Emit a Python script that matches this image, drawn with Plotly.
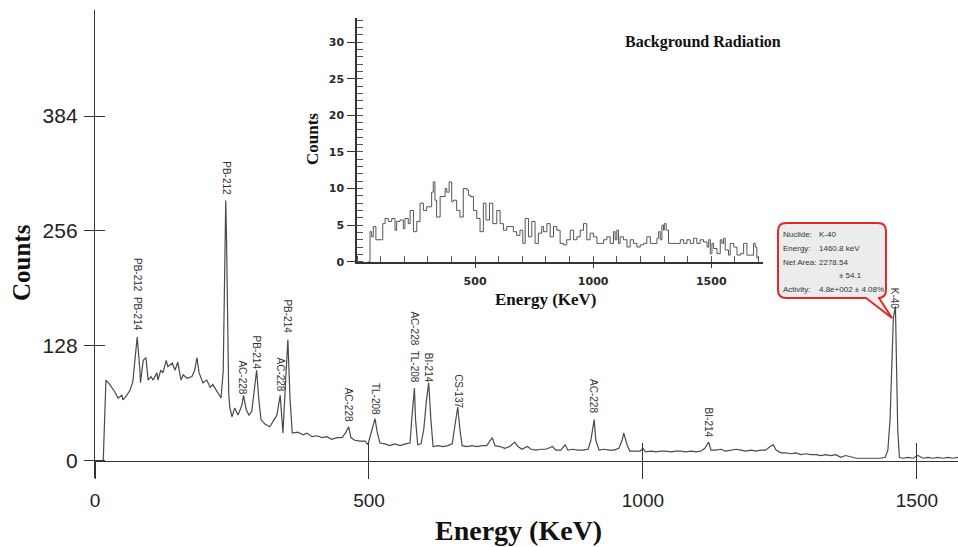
import plotly.graph_objects as go

W, H = 958, 547

# ---------------- data ----------------
main_energy = [0, 15, 20, 27, 36, 42, 49, 51, 58, 64, 69, 73, 77, 82, 83, 88, 93, 97, 102, 106,
               113, 115, 120, 124, 130, 133, 141, 146, 151, 157, 161, 168, 177, 182, 186, 190, 197,
               204, 210, 215, 223, 230, 234, 236.5, 238.6, 240, 242, 244, 246, 250, 255, 261, 268,
               271, 276, 281, 286, 290, 295, 299, 303, 310, 319, 327, 332, 338, 341, 343, 348, 352,
               356, 360, 370, 380, 387, 396, 405, 414, 423, 432, 442, 451, 458, 463, 467, 474, 484,
               493, 498, 504, 511, 515, 520, 529, 538, 547, 557, 566, 575, 578, 583, 585, 589, 595,
               600, 605, 609, 613, 617, 626, 635, 644, 652, 657, 662, 666, 670, 679, 688, 697, 706,
               715, 725, 730, 739, 748, 757, 766, 772, 779, 789, 796, 805, 814, 823, 835, 841, 850,
               858, 863, 872, 881, 891, 900, 905, 911, 914, 920, 929, 938, 947, 956, 962, 965, 971,
               976, 985, 995, 1000, 1005, 1015, 1024, 1033, 1042, 1051, 1060, 1069, 1078, 1088,
               1097, 1106, 1113, 1120, 1124, 1133, 1142, 1151, 1161, 1170, 1179, 1188, 1197, 1206,
               1215, 1224, 1232, 1238, 1243, 1252, 1261, 1270, 1279, 1288, 1297, 1307, 1316, 1325,
               1334, 1343, 1352, 1361, 1370, 1380, 1389, 1398, 1407, 1416, 1425, 1434, 1442, 1447,
               1451, 1454, 1457, 1460.8, 1463, 1465, 1468, 1474, 1484, 1493, 1502, 1511, 1520,
               1529, 1538, 1547, 1557, 1566, 1575]
main_counts = [0, 0, 90, 85, 77, 70, 73, 68, 73, 79, 88, 112, 138, 101, 87, 112, 115, 90, 94, 90,
               98, 90, 101, 98, 112, 105, 109, 101, 110, 90, 96, 92, 94, 101, 115, 98, 87,
               90, 82, 85, 77, 70, 100, 200, 290, 250, 120, 75, 60, 49, 59, 51, 62,
               73, 57, 51, 55, 73, 101, 68, 46, 41, 38, 46, 51, 73, 46, 31, 90, 135,
               68, 31, 32, 29, 31, 27, 28, 26, 27, 24, 26, 26, 32, 38, 26, 23, 22,
               22, 18, 32, 47, 32, 20, 19, 17, 19, 17, 19, 20, 46, 81, 46, 18, 19,
               35, 68, 87, 46, 16, 17, 16, 17, 19, 40, 60, 35, 17, 16, 17, 16, 17,
               17, 26, 17, 16, 14, 16, 21, 16, 13, 16, 13, 12, 13, 13, 16, 12, 12,
               18, 12, 13, 12, 12, 13, 23, 46, 23, 12, 13, 12, 12, 14, 23, 31, 18,
               11, 11, 11, 14, 10, 11, 10, 11, 11, 10, 11, 11, 10, 11,
               10, 11, 14, 21, 12, 12, 13, 11, 12, 13, 12, 11, 12, 11,
               12, 12, 16, 18, 12, 9, 9, 8, 9, 7, 8, 7, 7, 6,
               7, 6, 7, 4, 6, 4, 3, 3, 3, 3, 3, 3, 4, 12,
               46, 112, 159, 172, 112, 35, 4, 3, 4, 3, 6, 3, 4,
               3, 4, 3, 4, 3, 4]

peak_labels = ["PB-212  PB-214", "PB-212", "AC-228", "PB-214", "AC-228", "PB-214", "AC-228",
               "TL-208", "AC-228  TL-208", "BI-214", "CS-137", "AC-228", "BI-214", "K-40"]
label_energy = [78, 238.6, 270, 295, 338, 352, 463, 511, 583, 609, 662, 911, 1120, 1459]
label_count = [185, 315, 93, 121, 96, 161, 63, 69, 127, 104, 78, 72, 43, 180]

inset_energy = [45, 55, 62, 69, 80, 104, 109, 119, 133, 147, 161, 168, 182, 196, 203, 217, 225,
                239, 253, 267, 281, 295, 316, 323, 330, 337, 352, 373, 380, 390, 401, 408, 422,
                436, 450, 465, 472, 479, 493, 507, 521, 535, 546, 561, 575, 592, 606, 620, 634,
                648, 662, 676, 690, 702, 712, 726, 740, 754, 768, 782, 790, 804, 818, 832, 846,
                860, 874, 888, 903, 917, 931, 945, 959, 973, 987, 1001, 1016, 1030, 1044, 1058,
                1072, 1086, 1093, 1100, 1107, 1114, 1128, 1143, 1157, 1171, 1185, 1199, 1213,
                1227, 1242, 1256, 1270, 1277, 1284, 1291, 1298, 1301, 1309, 1319, 1333, 1354,
                1369, 1383, 1397, 1411, 1425, 1439, 1453, 1467, 1482, 1489, 1496, 1503, 1510,
                1524, 1538, 1545, 1552, 1559, 1573, 1580, 1595, 1609, 1623, 1637, 1651, 1665,
                1679, 1686, 1693, 1700]
inset_counts = [0, 4.1, 3.4, 4.8, 3.0, 3.0, 5.2, 5.9, 5.5, 5.9, 4.3, 5.5, 5.7, 4.5, 5.9, 5.2, 7.0,
                4.1, 5.5, 8.0, 7.0, 7.5, 9.5, 10.9, 8.4, 6.1, 8.9, 10.0, 9.5, 10.9, 8.2, 8.4, 7.0,
                6.1, 10.0, 9.8, 9.1, 8.9, 7.0, 5.9, 4.1, 8.0, 5.7, 8.0, 5.2, 7.0, 5.2, 4.3, 4.8,
                4.8, 4.1, 3.6, 4.3, 2.5, 5.9, 3.4, 5.5, 2.5, 3.9, 4.8, 4.1, 5.2, 3.4, 4.8, 4.3,
                2.5, 2.3, 3.0, 4.3, 3.0, 3.4, 4.3, 5.2, 3.0, 3.9, 3.4, 2.5, 2.5, 3.0, 3.4,
                2.5, 4.1, 3.0, 4.3, 2.5, 3.4, 3.0, 2.0, 3.0, 2.5, 2.0, 2.3, 2.5,
                3.4, 2.5, 2.5, 3.2, 4.1, 3.0, 5.0, 4.3, 5.2, 4.3, 2.5, 2.5, 2.5,
                3.0, 2.5, 3.0, 2.5, 3.2, 2.5, 3.0, 2.7, 2.0, 3.0, 1.1, 2.5, 1.8,
                1.1, 3.0, 2.5, 3.2, 1.6, 0.9, 2.5, 2.0, 0.9, 1.1, 2.5, 0.9, 0.9,
                2.5, 2.0, 0.5, 0.2]

main_xticks = [0, 500, 1000, 1500]
main_yticks = [0, 128, 256, 384]
inset_xticks = [500, 1000, 1500]
inset_yticks = [0, 5, 10, 15, 20, 25, 30]

callout_lines = [("Nuclide:", "K-40"), ("Energy:", "1460.8 keV"), ("Net Area:", "2278.54"),
                 ("", "± 54.1"), ("Activity:", "4.8e+002 ± 4.08%")]

# ---------------- geometry ----------------
def px(x):
    return x / W

def py(y):
    return 1 - y / H

MAIN_X = [0, 1575]
MAIN_Y = [-19, 502]
INSET_X = [0, 1719]
INSET_Y = [0, 33.3]

SANS = "Liberation Sans, Arial"
SERIF = "Liberation Serif, Times New Roman, serif"
AX = "#333333"

fig = go.Figure()
fig.add_trace(go.Scatter(x=main_energy, y=main_counts, mode="lines",
                         line=dict(color="#4a4a4a", width=1.2), xaxis="x", yaxis="y",
                         hoverinfo="skip", showlegend=False))
fig.add_trace(go.Scatter(x=[], y=[], mode="lines", xaxis="x2", yaxis="y2", showlegend=False))
fig.add_trace(go.Scatter(x=inset_energy, y=inset_counts, mode="lines", line_shape="hv",
                         line=dict(color="#555555", width=1), xaxis="x3", yaxis="y3",
                         hoverinfo="skip", showlegend=False))

main_dom_x = [px(95), 1.0]
main_dom_y = [py(478), py(10)]
axis_pos = py(461)

fig.update_layout(
    width=W, height=H, margin=dict(l=0, r=0, t=0, b=0, autoexpand=False),
    paper_bgcolor="white", plot_bgcolor="rgba(0,0,0,0)",
    xaxis=dict(domain=main_dom_x, range=MAIN_X, anchor="free", position=axis_pos,
               automargin=False,
               showline=True, linecolor=AX, linewidth=1.3, showgrid=False, zeroline=False,
               tickmode="array", tickvals=main_xticks, ticks="outside", ticklen=17,
               tickcolor=AX, tickwidth=1.2, ticklabelstandoff=5,
               tickfont=dict(family=SANS, size=19, color="#222")),
    yaxis=dict(domain=main_dom_y, range=MAIN_Y, anchor="x", showline=True, linecolor=AX,
               automargin=False,
               linewidth=1.3, showgrid=False, zeroline=False, tickmode="array",
               tickvals=main_yticks, ticks="outside", ticklen=10, tickcolor=AX, tickwidth=1.2,
               ticklabelstandoff=2, tickfont=dict(family=SANS, size=21, color="#222")),
    xaxis2=dict(overlaying="x", range=MAIN_X, anchor="free", position=axis_pos,
                automargin=False,
                showline=False, showgrid=False, zeroline=False, tickmode="array",
                tickvals=main_xticks, ticks="inside", ticklen=18, tickcolor=AX, tickwidth=1.2,
                showticklabels=False),
    yaxis2=dict(overlaying="y", range=MAIN_Y, anchor="x2", showline=False, showgrid=False,
                automargin=False,
                zeroline=False, tickmode="array", tickvals=main_yticks, ticks="inside",
                ticklen=10, tickcolor=AX, tickwidth=1.2, showticklabels=False),
    xaxis3=dict(domain=[px(357), px(763)], range=INSET_X, anchor="y3", showline=True,
                automargin=False,
                linecolor=AX, linewidth=1.5, showgrid=False, zeroline=False, tickmode="array",
                tickvals=inset_xticks, ticks="outside", ticklen=5, tickcolor=AX,
                ticklabelstandoff=3,
                minor=dict(ticks="inside", dtick=100, ticklen=6, tickcolor="#555"),
                tickfont=dict(family="DejaVu Sans", size=11, color="#2a2a2a", weight="bold")),
    yaxis3=dict(domain=[py(261.7), py(18)], range=INSET_Y, anchor="x3", showline=True,
                automargin=False,
                linecolor=AX, linewidth=1.5, showgrid=False, zeroline=False, tickmode="array",
                tickvals=inset_yticks, ticks="outside", ticklen=8, tickcolor=AX,
                ticklabelstandoff=1,
                minor=dict(ticks="inside", dtick=1, ticklen=6, tickcolor="#555"),
                tickfont=dict(family="DejaVu Sans", size=11, color="#2a2a2a", weight="bold")),
)

ann = []
# peak labels
for t, e, c in zip(peak_labels, label_energy, label_count):
    ann.append(dict(x=e, y=c, xref="x", yref="y", text=t, textangle=90, showarrow=False,
                    xanchor="center", yanchor="middle",
                    font=dict(family=SANS, size=10, color="#333")))

# axis titles
ann.append(dict(x=px(22), y=py(263), xref="paper", yref="paper", text="<b>Counts</b>",
                textangle=-90, showarrow=False, xanchor="center", yanchor="middle",
                font=dict(family=SERIF, size=25, color="#111")))
ann.append(dict(x=px(518), y=py(530), xref="paper", yref="paper", text="<b>Energy (KeV)</b>",
                showarrow=False, xanchor="center", yanchor="middle",
                font=dict(family=SERIF, size=28, color="#111")))
ann.append(dict(x=px(312), y=py(139), xref="paper", yref="paper", text="<b>Counts</b>",
                textangle=-90, showarrow=False, xanchor="center", yanchor="middle",
                font=dict(family=SERIF, size=17, color="#111")))
ann.append(dict(x=px(546), y=py(299), xref="paper", yref="paper", text="<b>Energy (KeV)</b>",
                showarrow=False, xanchor="center", yanchor="middle",
                font=dict(family=SERIF, size=17, color="#111")))
ann.append(dict(x=px(703), y=py(42), xref="paper", yref="paper",
                text="<b>Background Radiation</b>", showarrow=False, xanchor="center",
                yanchor="middle", font=dict(family=SERIF, size=16, color="#111")))

# callout box
L, R, T, B, r = 778, 886, 223, 298, 8
pts = (f"M {px(L + r)},{py(T)} L {px(R - r)},{py(T)} Q {px(R)},{py(T)} {px(R)},{py(T + r)} "
       f"L {px(R)},{py(B - r)} Q {px(R)},{py(B)} {px(R - r)},{py(B)} "
       f"L {px(879)},{py(B)} L {px(892)},{py(318)} L {px(866)},{py(B)} "
       f"L {px(L + r)},{py(B)} Q {px(L)},{py(B)} {px(L)},{py(B - r)} "
       f"L {px(L)},{py(T + r)} Q {px(L)},{py(T)} {px(L + r)},{py(T)} Z")
fig.add_shape(type="path", path=pts, xref="paper", yref="paper",
              line=dict(color="#e02a2a", width=2), fillcolor="#ececec", layer="above")

line_y = [235, 249, 262, 275, 289]
for (k, v), yy in zip(callout_lines, line_y):
    if k:
        ann.append(dict(x=px(781), y=py(yy), xref="paper", yref="paper", text=k,
                        showarrow=False, xanchor="left", yanchor="middle",
                        font=dict(family=SANS, size=8, color="#333")))
    vx = 837 if not k else 817
    ann.append(dict(x=px(vx), y=py(yy), xref="paper", yref="paper", text=v,
                    showarrow=False, xanchor="left", yanchor="middle",
                    font=dict(family=SANS, size=8, color="#333")))

fig.update_layout(annotations=ann)
fig.write_html("out.html")
